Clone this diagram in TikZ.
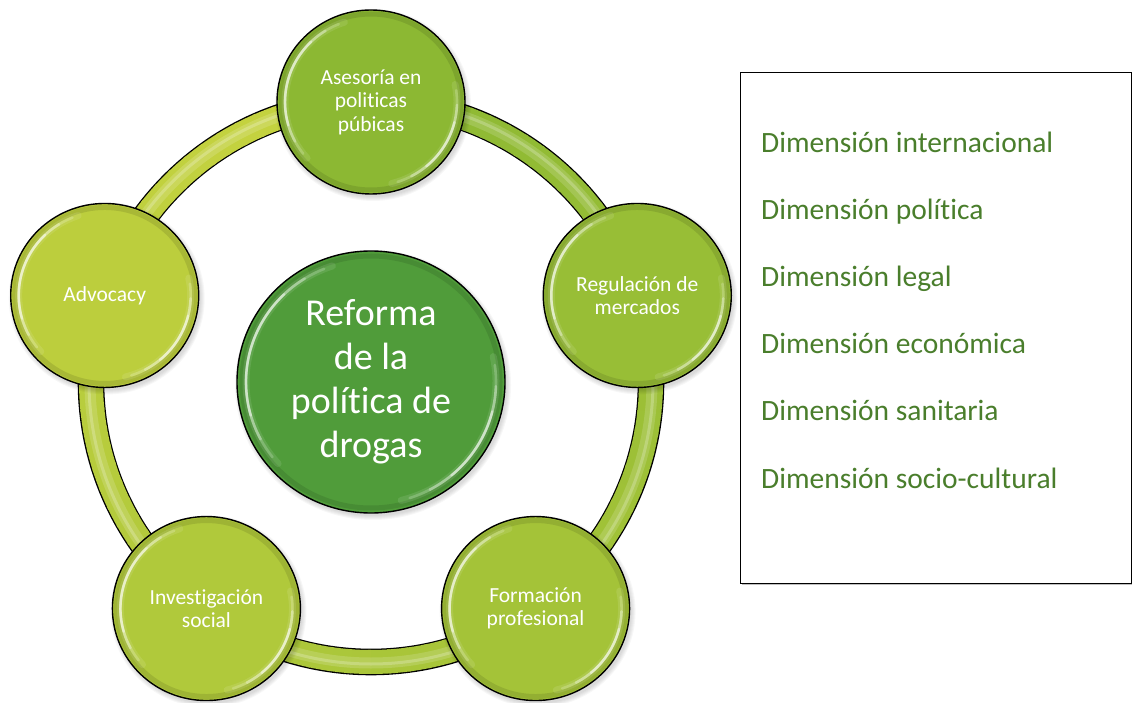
\documentclass[tikz,border=0pt]{standalone}
\usepackage{fontspec}
\setmainfont{Carlito}[Ligatures=NoCommon]
\usetikzlibrary{calc,shapes.geometric}
\definecolor{ringA}{RGB}{140,184,51}
\definecolor{ringB}{RGB}{200,212,64}
\definecolor{hub}{RGB}{80,156,58}
\definecolor{dimtext}{RGB}{74,126,44}

% soft inner rim and glossy white highlights of a round button
\newcommand\glossarc[3]{%
  \draw[black, opacity=.10, line width=5] (#1.center) ellipse[x radius=#2+4, y radius=#3+4];
  \foreach \s/\e/\o/\w in {108/222/0.10/7,112/218/0.20/2.6,122/208/0.30/2.6,134/196/0.45/2.4,
                           -76/12/0.10/7,-72/8/0.20/2.6,-62/-2/0.30/2.6,-50/-14/0.45/2.4}{
    \draw[white, opacity=\o, line width=\w, line cap=round]
      ([shift={(\s:#2 and #3)}]#1.center) arc[start angle=\s, end angle=\e, x radius=#2, y radius=#3];
  }}

\begin{document}
\begin{tikzpicture}[x=1pt,y=1pt,
  petal/.style={ellipse, draw=black, line width=1.4, minimum width=188, minimum height=184,
    inner sep=0, text=white, align=center, font=\fontsize{21.5}{23.5}\selectfont},
  hubnode/.style={ellipse, draw=black, line width=1.4, fill=hub, minimum width=268,
    minimum height=262, inner sep=0, text=white, align=center, font=\fontsize{38}{44}\selectfont},
  dimlabel/.style={anchor=base west, text=dimtext, font=\fontsize{29.5}{35}\selectfont, inner sep=0}]
\useasboundingbox (0,0) rectangle (1132,702);
\coordinate (C) at (371,320);

% the connecting tube
\draw[line width=26.6, black] (C) circle[radius=280];
\foreach \i in {0,...,89}{
  \pgfmathtruncatemacro\t{round(100*\i/89)}
  \pgfmathsetmacro\a{90-4*\i}
  \draw[line width=24, color=ringB!\t!ringA]
    ([shift={(\a:280)}]C) arc[start angle=\a, end angle=\a-4.6, radius=280];
}
\draw[white, opacity=.15, line width=11] (C) circle[radius=281];
\draw[white, opacity=.22, line width=3] (C) circle[radius=282];

% soft shadows under the buttons
\foreach \ang in {90,18,-54,-126,162}{
  \foreach \k in {1,...,5}{
    \fill[black, opacity=0.03] ([shift={(\ang:280)}]C) ++(2,-3) ellipse[x radius=93+\k, y radius=91+\k];
  }
}
\foreach \k in {1,...,5}{
  \fill[black, opacity=0.03] (C) ++(2,-3) ellipse[x radius=133+\k, y radius=130+\k];
}

% buttons
\node[petal, fill=ringA]          (top)    at ([shift={(90:280)}]C)   {Asesoría en\\politicas\\púbicas};
\node[petal, fill=ringB!20!ringA] (right)  at ([shift={(18:280)}]C)   {Regulación de\\mercados};
\node[petal, fill=ringB!40!ringA] (bright) at ([shift={(-54:280)}]C)  {Formación\\profesional};
\node[petal, fill=ringB!60!ringA] (bleft)  at ([shift={(-126:280)}]C) {Investigación\\social};
\node[petal, fill=ringB!80!ringA] (left)   at ([shift={(162:280)}]C)  {Advocacy};
\node[hubnode] (hub) at (C) {Reforma\\de la\\política de\\drogas};

\foreach \n in {top,right,bright,bleft,left}{\glossarc{\n}{86}{84}}
\glossarc{hub}{125}{122}

% list of dimensions
\fill[black, opacity=.25] (741.5,117.5) rectangle (1132,628.5);
\node[draw, fill=white, line width=1.2, minimum width=391, minimum height=511,
      anchor=north west, inner sep=0] (box) at (740,630) {};
\node[dimlabel] (d1) at (761,549) {Dimensión internacional};
\node[dimlabel] (d2) at (761,482) {Dimensión política};
\node[dimlabel] (d3) at (761,415) {Dimensión legal};
\node[dimlabel] (d4) at (761,348) {Dimensión económica};
\node[dimlabel] (d5) at (761,281) {Dimensión sanitaria};
\node[dimlabel] (d6) at (761,214) {Dimensión socio-cultural};
\end{tikzpicture}
\end{document}
